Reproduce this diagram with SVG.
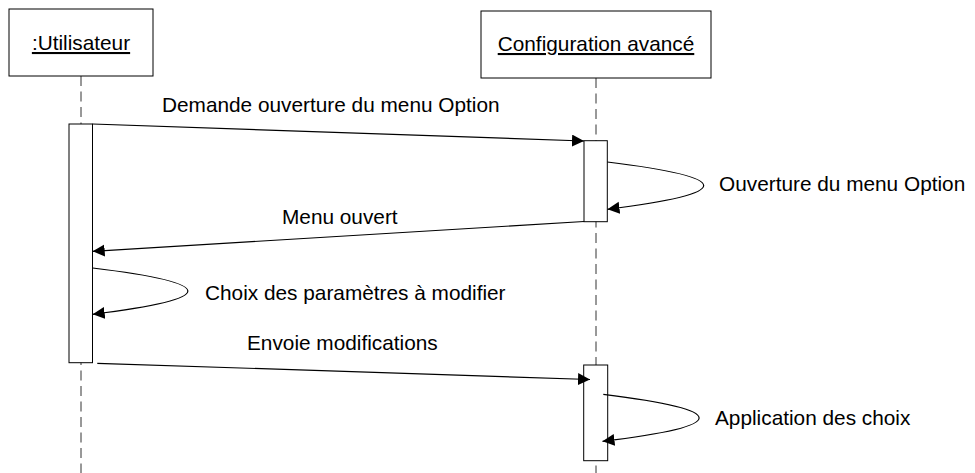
<svg xmlns="http://www.w3.org/2000/svg" width="975" height="473" viewBox="0 0 975 473">
<style>
  text { font-family: "Liberation Sans", Arial, sans-serif; font-size: 20.8px; fill: #000; }
  .head { text-anchor: middle; text-decoration: underline; }
  .box { fill: #fff; stroke: #000; stroke-width: 1; }
  .life { stroke: #333; stroke-width: 1; stroke-dasharray: 10 5.5; fill: none; }
  .act { fill: #fff; stroke: #000; stroke-width: 1; }
  .msg { fill: none; stroke: #000; stroke-width: 1.2; marker-end: url(#arr); }
</style>
<defs>
  <marker id="arr" markerUnits="userSpaceOnUse" markerWidth="13" markerHeight="13" refX="12" refY="6" orient="auto">
    <path d="M0,0 L12,6 L0,12 z" fill="#000"/>
  </marker>
</defs>
<rect width="975" height="473" fill="#fff"/>

<g id="lifelines">
  <line class="life" x1="81" y1="76" x2="81" y2="473"/>
  <line class="life" x1="596" y1="78" x2="596" y2="473"/>
</g>

<g id="utilisateur">
  <rect class="box" x="9" y="9" width="144" height="67"/>
  <text class="head" x="81" y="50">:Utilisateur</text>
</g>

<g id="configuration">
  <rect class="box" x="481" y="11" width="230" height="67"/>
  <text class="head" x="596" y="51">Configuration avancé</text>
</g>

<g id="activations">
  <rect class="act" x="69" y="124" width="23.5" height="238.7"/>
  <rect class="act" x="584" y="140.7" width="23.3" height="81"/>
  <rect class="act" x="583.7" y="365" width="24" height="95.7"/>
</g>

<g id="connectors">
  <path class="msg" d="M92.5,124 L584,141"/>
  <path class="msg" d="M607.3,162 Q800,185.5 607.5,209.3"/>
  <path class="msg" d="M584,221.5 L92.7,251.3"/>
  <path class="msg" d="M92.7,268 Q283,291 92.7,314.3"/>
  <path class="msg" d="M97.3,363.3 L590,379.5"/>
  <path class="msg" d="M603.3,394.3 Q795.3,418 602.5,441.3"/>
</g>

<g id="labels">
  <text x="162" y="112">Demande ouverture du menu Option</text>
  <text x="719" y="191">Ouverture du menu Option</text>
  <text x="282" y="224">Menu ouvert</text>
  <text x="205" y="300">Choix des paramètres à modifier</text>
  <text x="247" y="350">Envoie modifications</text>
  <text x="715" y="425">Application des choix</text>
</g>
</svg>
